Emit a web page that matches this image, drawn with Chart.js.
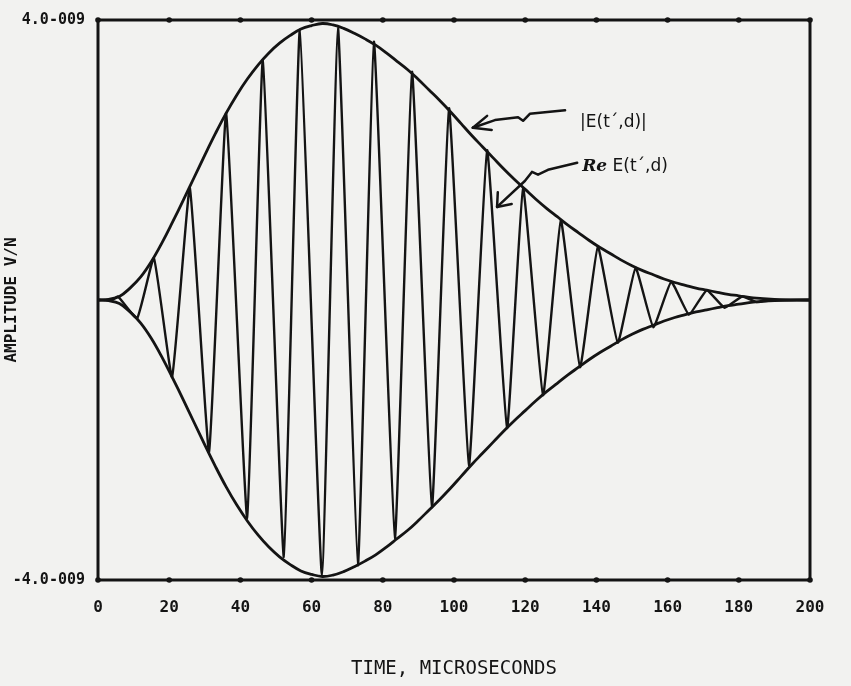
<!DOCTYPE html>
<html lang="en">
<head>
  <meta charset="UTF-8">
  <title>Pulse envelope and real part</title>
  <style>
    body {
      margin: 0;
      background: #f2f2f0;
    }
    .wrap {
      width: 851px;
      height: 686px;
    }
  </style>
</head>
<body>
  <div class="wrap">
    <canvas id="pulseChart" width="851" height="686"></canvas>
  </div>

  <script src="https://cdn.jsdelivr.net/npm/chart.js"></script>
  <script>
    // time in microseconds, amplitude in units of 1e-9 V/m
    const envTime = [0, 3, 6, 9, 12, 15, 18, 21, 24, 27, 30, 33, 36, 39, 42, 45, 48, 51, 54, 57, 60, 63, 66, 69, 72, 75, 78, 81, 84, 87, 90, 93, 96, 99, 102, 105, 108, 111, 114, 117, 120, 123, 126, 129, 132, 135, 138, 141, 144, 147, 150, 153, 156, 159, 162, 165, 168, 171, 174, 177, 180, 184, 190, 200];
    const envAmp = [0, 0.01, 0.05, 0.17, 0.33, 0.55, 0.82, 1.12, 1.43, 1.75, 2.07, 2.38, 2.67, 2.93, 3.16, 3.36, 3.53, 3.67, 3.78, 3.87, 3.92, 3.95, 3.93, 3.88, 3.81, 3.73, 3.64, 3.53, 3.41, 3.29, 3.15, 3.00, 2.85, 2.69, 2.52, 2.35, 2.19, 2.03, 1.87, 1.72, 1.58, 1.44, 1.31, 1.19, 1.07, 0.96, 0.85, 0.75, 0.66, 0.57, 0.49, 0.42, 0.36, 0.30, 0.25, 0.21, 0.17, 0.14, 0.11, 0.08, 0.06, 0.03, 0.01, 0];

    // peaks and troughs of Re E(t',d)
    const reTime = [0, 4, 5.6, 11, 15.7, 20.8, 25.8, 31.2, 36, 41.9, 46.3, 52.2, 56.7, 62.9, 67.4, 73, 77.5, 83.4, 88.2, 93.8, 98.6, 104.2, 109.3, 114.9, 119.4, 125, 130, 135.4, 140.4, 146, 151, 156, 161, 166, 171, 176, 181, 185, 190, 200];
    const reAmp = [0, 0, 0.05, -0.26, 0.6, -1.1, 1.6, -2.17, 2.67, -3.11, 3.43, -3.67, 3.86, -3.93, 3.89, -3.79, 3.69, -3.4, 3.26, -2.96, 2.74, -2.36, 2.14, -1.83, 1.6, -1.36, 1.14, -0.96, 0.76, -0.61, 0.46, -0.39, 0.26, -0.21, 0.14, -0.11, 0.05, -0.03, 0, 0];

    const xTicks = [0, 20, 40, 60, 80, 100, 120, 140, 160, 180, 200];
    const yTicks = [-4, 4];
    const yTickLabels = ['-4.0-009', '4.0-009'];

    const INK = '#141414';

    // labels and arrows, in data units (time, amplitude)
    const notes = [
      { text: '|E(t\u00b4,d)|', at: [135.4, 2.54] },
      { text: ' E(t\u00b4,d)', prefix: 'Re', at: [136, 1.9] }
    ];
    const arrows = [
      { path: [[131.2, 2.71], [121.3, 2.66], [119.4, 2.56], [118.0, 2.61], [111.5, 2.57], [105.3, 2.46]],
        barbs: [[109.3, 2.63], [110.6, 2.43]] },
      { path: [[134.6, 1.96], [126.4, 1.86], [123.6, 1.79], [121.9, 1.83], [119.9, 1.70], [112.1, 1.33]],
        barbs: [[112.3, 1.54], [116.2, 1.37]] }
    ];

    function pairs(xs, ys, sign) {
      return xs.map((x, i) => ({ x: x, y: sign * ys[i] }));
    }

    const paperPlugin = {
      id: 'paper',
      beforeDraw(chart) {
        const c = chart.ctx;
        c.save();
        c.fillStyle = '#f2f2f0';
        c.fillRect(0, 0, chart.width, chart.height);
        c.restore();
      }
    };

    // frame, tick dots and the hand drawn labels
    const framePlugin = {
      id: 'frame',
      afterDraw(chart) {
        const c = chart.ctx;
        const a = chart.chartArea;
        const xs = chart.scales.x;
        const ys = chart.scales.y;
        c.save();
        c.strokeStyle = INK;
        c.fillStyle = INK;
        c.lineWidth = 3;
        c.strokeRect(a.left, a.top, a.right - a.left, a.bottom - a.top);

        xTicks.forEach(t => {
          const px = xs.getPixelForValue(t);
          [a.top, a.bottom].forEach(py => {
            c.beginPath();
            c.arc(px, py, 2.8, 0, Math.PI * 2);
            c.fill();
          });
        });

        c.lineWidth = 2.5;
        c.lineJoin = 'round';
        c.lineCap = 'round';
        arrows.forEach(arr => {
          c.beginPath();
          arr.path.forEach((p, i) => {
            const px = xs.getPixelForValue(p[0]);
            const py = ys.getPixelForValue(p[1]);
            if (i === 0) c.moveTo(px, py); else c.lineTo(px, py);
          });
          c.stroke();
          const tip = arr.path[arr.path.length - 1];
          const tx = xs.getPixelForValue(tip[0]);
          const ty = ys.getPixelForValue(tip[1]);
          arr.barbs.forEach(b => {
            c.beginPath();
            c.moveTo(tx, ty);
            c.lineTo(xs.getPixelForValue(b[0]), ys.getPixelForValue(b[1]));
            c.stroke();
          });
        });

        c.textBaseline = 'middle';
        notes.forEach(n => {
          let px = xs.getPixelForValue(n.at[0]);
          const py = ys.getPixelForValue(n.at[1]);
          if (n.prefix) {
            c.font = 'italic bold 17px "DejaVu Serif"';
            c.fillText(n.prefix, px, py);
            px += c.measureText(n.prefix).width;
          }
          c.font = '17px "DejaVu Sans"';
          c.fillText(n.text, px, py);
        });
        c.restore();
      }
    };

    const envStyle = {
      borderColor: INK,
      borderWidth: 2.8,
      pointRadius: 0,
      fill: false,
      tension: 0.4
    };

    new Chart(document.getElementById('pulseChart'), {
      type: 'line',
      data: {
        datasets: [
          Object.assign({ label: '|E(t\u00b4,d)|', data: pairs(envTime, envAmp, 1) }, envStyle),
          Object.assign({ label: '-|E(t\u00b4,d)|', data: pairs(envTime, envAmp, -1) }, envStyle),
          {
            label: 'Re E(t\u00b4,d)',
            data: pairs(reTime, reAmp, 1),
            borderColor: INK,
            borderWidth: 2.4,
            pointRadius: 0,
            fill: false,
            tension: 0.12
          }
        ]
      },
      options: {
        responsive: false,
        animation: false,
        layout: { padding: { top: 20, right: 41, left: 0, bottom: 0 } },
        plugins: {
          legend: { display: false },
          tooltip: { enabled: false }
        },
        scales: {
          x: {
            type: 'linear',
            min: 0,
            max: 200,
            afterBuildTicks: s => { s.ticks = xTicks.map(v => ({ value: v })); },
            afterFit: s => { s.height = 106; },
            grid: { display: false },
            border: { display: false },
            ticks: {
              color: INK,
              padding: 10,
              font: { family: '"DejaVu Sans Mono"', size: 16, weight: 'bold' }
            },
            title: {
              display: true,
              text: 'TIME, MICROSECONDS',
              color: INK,
              padding: { top: 0, bottom: 6 },
              font: { family: '"DejaVu Sans Mono"', size: 19 }
            }
          },
          y: {
            min: -4,
            max: 4,
            afterBuildTicks: s => { s.ticks = yTicks.map(v => ({ value: v })); },
            afterFit: s => { s.width = 98; },
            grid: { display: false },
            border: { display: false },
            ticks: {
              color: INK,
              padding: 5,
              callback: (v) => yTickLabels[yTicks.indexOf(v)],
              font: { family: '"DejaVu Sans Mono"', size: 15, weight: 'bold' }
            },
            title: {
              display: true,
              text: 'AMPLITUDE V/N',
              color: INK,
              padding: { top: 2, bottom: 0 },
              font: { family: '"DejaVu Sans Mono"', size: 16, weight: 'bold' }
            }
          }
        }
      },
      plugins: [paperPlugin, framePlugin]
    });
  </script>
</body>
</html>
